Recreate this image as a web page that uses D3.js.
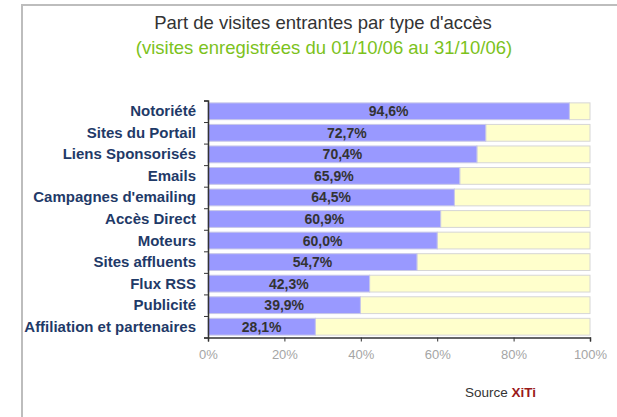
<!DOCTYPE html>
<html>
<head>
<meta charset="utf-8">
<script src="https://cdn.jsdelivr.net/npm/d3@7"></script>
<style>
  body { margin: 0; background: #fff; }
  svg { display: block; font-family: Arial, "Liberation Sans", sans-serif; }
</style>
</head>
<body>
<svg id="chart" width="617" height="417"></svg>
<script>
// categories top to bottom
const categories = [
  'Notoriété', 'Sites du Portail', 'Liens Sponsorisés', 'Emails',
  "Campagnes d'emailing", 'Accès Direct', 'Moteurs', 'Sites affluents',
  'Flux RSS', 'Publicité', 'Affiliation et partenaires'
];
const values = [94.6, 72.7, 70.4, 65.9, 64.5, 60.9, 60.0, 54.7, 42.3, 39.9, 28.1];
const tickValues = [0, 20, 40, 60, 80, 100];
const title = "Part de visites entrantes par type d'accès";
const subtitle = '(visites enregistrées du 01/10/06 au 31/10/06)';

const svg = d3.select('#chart');
const fr = d3.formatLocale({decimal: ',', thousands: ' ', grouping: [3], currency: ['', '€']});
const fmt = v => fr.format('.1f')(v) + '%';

// outer frame (only left/top visible, rest runs off the picture)
svg.append('rect')
  .attr('x', 22).attr('y', 5)
  .attr('width', 700).attr('height', 500)
  .attr('fill', 'none')
  .attr('stroke', '#bdbdbd')
  .attr('stroke-width', 2);

svg.append('text')
  .attr('x', 323).attr('y', 29)
  .attr('text-anchor', 'middle')
  .attr('font-size', 18.5)
  .attr('fill', '#333')
  .text(title);

svg.append('text')
  .attr('x', 324).attr('y', 54)
  .attr('text-anchor', 'middle')
  .attr('font-size', 18.5)
  .attr('fill', '#7cc21c')
  .text(subtitle);

const x = d3.scaleLinear().domain([0, 100]).range([208, 590]);
const y = d3.scaleBand().domain(categories).range([100.5, 337.5])
  .paddingInner(0.22).paddingOuter(0.11);
const yEdge = d3.scaleLinear().domain([0, categories.length]).range([337.5, 100.5]);

const rows = svg.append('g').selectAll('g')
  .data(categories.map((c, i) => ({name: c, value: values[i]})))
  .join('g');

// yellow remainder
rows.append('rect')
  .attr('x', d => x(d.value))
  .attr('y', d => y(d.name))
  .attr('width', d => x(100) - x(d.value))
  .attr('height', y.bandwidth())
  .attr('fill', '#ffffcc')
  .attr('stroke', '#d6d6d6')
  .attr('stroke-width', 1);

rows.append('rect')
  .attr('x', x(0))
  .attr('y', d => y(d.name))
  .attr('width', d => x(d.value) - x(0))
  .attr('height', y.bandwidth())
  .attr('fill', '#9999ff')
  .attr('stroke', '#c8c8e8')
  .attr('stroke-width', 1);

rows.append('text')
  .attr('x', d => x(d.value / 2))
  .attr('y', d => y(d.name) + y.bandwidth() / 2 + 5)
  .attr('text-anchor', 'middle')
  .attr('font-size', 14)
  .attr('font-weight', 'bold')
  .attr('fill', '#333')
  .text(d => fmt(d.value));

rows.append('text')
  .attr('x', 196)
  .attr('y', d => y(d.name) + y.bandwidth() / 2 + 5)
  .attr('text-anchor', 'end')
  .attr('font-size', 15)
  .attr('font-weight', 'bold')
  .attr('fill', '#1f3a68')
  .text(d => d.name);

// y axis: ticks between categories
const ya = svg.append('g')
  .attr('transform', `translate(${x(0)},0)`)
  .call(d3.axisLeft(yEdge).tickValues(d3.range(categories.length + 1)).tickSize(4).tickFormat(''));
ya.select('.domain').attr('stroke', '#333').attr('stroke-width', 1.5);
ya.selectAll('.tick line').attr('stroke', '#333');

const xa = svg.append('g')
  .attr('transform', `translate(0,${yEdge(0)})`)
  .call(d3.axisBottom(x).tickValues(tickValues).tickSize(4).tickPadding(8).tickFormat(d => d + '%'));
xa.select('.domain').attr('stroke', '#333').attr('stroke-width', 1.5);
xa.selectAll('.tick line').attr('stroke', '#333');
xa.selectAll('.tick text')
  .attr('font-size', 13)
  .attr('font-family', 'Arial, "Liberation Sans", sans-serif')
  .attr('fill', '#a5a5a5');

const src = svg.append('text')
  .attr('x', 465).attr('y', 397)
  .attr('font-size', 13.5)
  .attr('fill', '#333');
src.append('tspan').text('Source ');
src.append('tspan').attr('fill', '#9a1a1a').attr('font-weight', 'bold').text('XiTi');
</script>
</body>
</html>
